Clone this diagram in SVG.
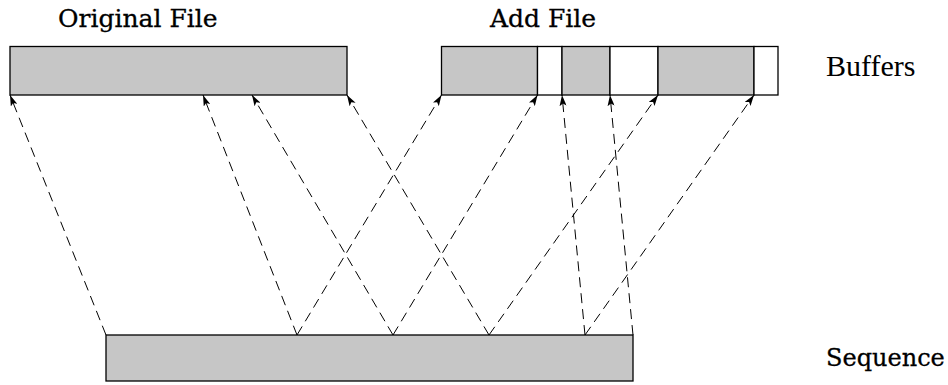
<svg xmlns="http://www.w3.org/2000/svg" width="948" height="385" viewBox="0 0 948 385">
<style>
.g{fill:#c6c6c6;stroke:#000;stroke-width:1.3}
.w{fill:#fff;stroke:#000;stroke-width:1.3}
.c{fill:none;stroke:#000;stroke-width:1;stroke-dasharray:10,6;marker-end:url(#ah)}
.t{font-family:"DejaVu Serif",serif;font-size:25px;fill:#000;stroke:#000;stroke-width:0.3}
.tb{font-family:"Liberation Serif",serif;font-size:30px;fill:#000}
</style>
<defs>
<marker id="ah" viewBox="0 0 11 7" refX="11" refY="3.5" markerWidth="11" markerHeight="7" markerUnits="userSpaceOnUse" orient="auto">
<path d="M0,0 L11,3.5 L0,7 L2.5,3.5 Z" fill="#000"/>
</marker>
</defs>
<g id="original-buffer">
<rect class="g" x="10" y="46.5" width="337" height="48.5"/>
<text class="t" x="58" y="27">Original File</text>
</g>
<g id="add-buffer">
<rect class="g" x="441.5" y="46.5" width="96" height="48.5"/>
<rect class="w" x="537.5" y="46.5" width="24.5" height="48.5"/>
<rect class="g" x="562" y="46.5" width="48" height="48.5"/>
<rect class="w" x="610" y="46.5" width="48" height="48.5"/>
<rect class="g" x="658" y="46.5" width="96" height="48.5"/>
<rect class="w" x="754" y="46.5" width="24" height="48.5"/>
<text class="t" x="490" y="27">Add File</text>
</g>
<g id="buffers-label"><text class="tb" x="826" y="76">Buffers</text></g>
<g id="sequence">
<rect class="g" x="106" y="335" width="527" height="46"/>
</g>
<g id="sequence-label"><text class="t" x="826" y="366" style="font-size:24px">Sequence</text></g>
<g id="connectors">
<line class="c" x1="106" y1="335" x2="10" y2="95"/>
<line class="c" x1="297" y1="335" x2="203" y2="95"/>
<line class="c" x1="297" y1="335" x2="441.5" y2="95"/>
<line class="c" x1="393" y1="335" x2="537.5" y2="95"/>
<line class="c" x1="393" y1="335" x2="252" y2="95"/>
<line class="c" x1="489" y1="335" x2="347" y2="95"/>
<line class="c" x1="489" y1="335" x2="658" y2="95"/>
<line class="c" x1="585" y1="335" x2="754" y2="95"/>
<line class="c" x1="585" y1="335" x2="562" y2="95"/>
<line class="c" x1="633" y1="335" x2="610" y2="95"/>
</g>
</svg>
